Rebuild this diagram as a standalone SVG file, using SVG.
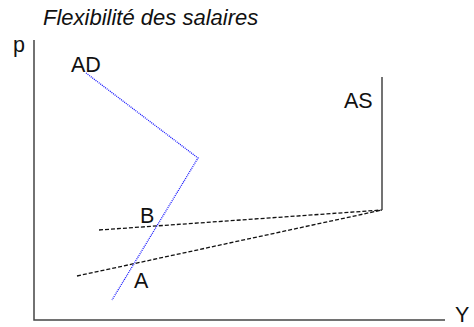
<svg xmlns="http://www.w3.org/2000/svg" width="474" height="327" viewBox="0 0 474 327">
<style>
text{font-family:"Liberation Sans",Arial,sans-serif;font-size:21.5px;fill:#111}
.title{font-style:italic;font-size:22px}
.axis{stroke:#444;stroke-width:1.5;fill:none}
.dash{stroke:#111;stroke-width:1.3;stroke-dasharray:4 2;fill:none}
.ad{stroke:#1515ff;stroke-width:1.3;stroke-dasharray:1 1;fill:none}
</style>
<rect width="474" height="327" fill="#fff"/>
<text class="title" x="43" y="25">Flexibilité des salaires</text>
<g id="axes">
<path class="axis" d="M34 40V320H445"/>
<text x="13" y="52">p</text>
<text x="455" y="322">Y</text>
</g>
<g id="connectors">
<path class="dash" d="M99 230L382 210"/>
<path class="dash" d="M77 276L382 210"/>
</g>
<g id="AD">
<path class="ad" d="M86 73L198 158L112 300"/>
<text x="71" y="72">AD</text>
</g>
<g id="AS">
<path class="axis" d="M382 77V210"/>
<text x="344" y="108">AS</text>
</g>
<g id="B"><text x="140" y="222.5">B</text></g>
<g id="A"><text x="134" y="288">A</text></g>
</svg>
